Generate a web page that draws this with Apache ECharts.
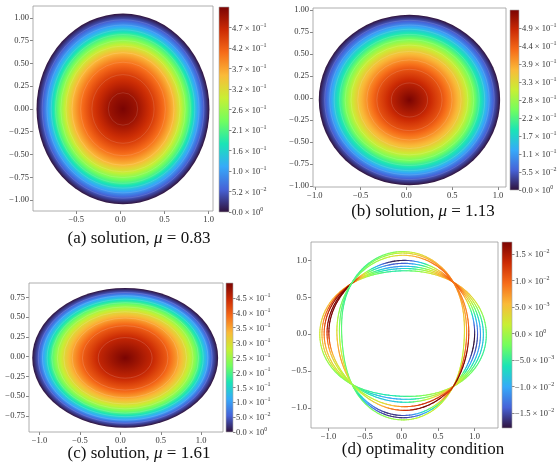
<!DOCTYPE html>
<html>
<head>
<meta charset="utf-8">
<script src="https://cdn.jsdelivr.net/npm/echarts@6/dist/echarts.min.js"></script>
<style>
  html, body { margin: 0; padding: 0; background: #fff; }
  #chart { width: 558px; height: 467px; }
</style>
</head>
<body>
<div id="chart"></div>
<script>
var FONT = 'Liberation Serif';

// ---- values ----
// contour levels (centre value first) and where each one sits,
// as a fraction of the way from the centre to the boundary
var levelsA = [0.525, 0.5, 0.45, 0.4, 0.35, 0.3, 0.25, 0.2, 0.15, 0.1, 0.05, 0];
var radiusA = [0, 0.17, 0.36, 0.49, 0.59, 0.66, 0.72, 0.78, 0.83, 0.88, 0.935, 1];
var levelsB = [0.55, 0.5, 0.45, 0.4, 0.35, 0.3, 0.25, 0.2, 0.15, 0.1, 0.05, 0];
var radiusB = [0, 0.2, 0.36, 0.47, 0.57, 0.645, 0.71, 0.77, 0.83, 0.88, 0.935, 1];
var levelsC = [0.5, 0.45, 0.4, 0.35, 0.3, 0.25, 0.2, 0.15, 0.1, 0.05, 0];
var radiusC = [0, 0.29, 0.46, 0.57, 0.66, 0.73, 0.79, 0.84, 0.89, 0.935, 1];
// domain: centre x, centre y, half width, half height
var domainA = [0.03, 0.0, 0.98, 1.047];
var domainB = [0.033, -0.023, 0.99, 0.966];
var domainC = [0.06, -0.015, 1.15, 0.885];
var maxA = 0.525, maxB = 0.55, maxC = 0.5;

var cbTicksA = [0, 0.0525, 0.105, 0.1575, 0.21, 0.2625, 0.315, 0.3675, 0.42, 0.4725];
var cbMantA = ['0.0', '5.2', '1.0', '1.6', '2.1', '2.6', '3.2', '3.7', '4.2', '4.7'];
var cbExpA = ['0', '−2', '−1', '−1', '−1', '−1', '−1', '−1', '−1', '−1'];
var cbTicksB = [0, 0.055, 0.11, 0.165, 0.22, 0.275, 0.33, 0.385, 0.44, 0.495];
var cbMantB = ['0.0', '5.5', '1.1', '1.7', '2.2', '2.8', '3.3', '3.9', '4.4', '4.9'];
var cbExpB = ['0', '−2', '−1', '−1', '−1', '−1', '−1', '−1', '−1', '−1'];
var cbTicksC = [0, 0.05, 0.1, 0.15, 0.2, 0.25, 0.3, 0.35, 0.4, 0.45];
var cbMantC = ['0.0', '5.0', '1.0', '1.5', '2.0', '2.5', '3.0', '3.5', '4.0', '4.5'];
var cbExpC = ['0', '−2', '−1', '−1', '−1', '−1', '−1', '−1', '−1', '−1'];
var cbTicksD = [-0.015, -0.01, -0.005, 0, 0.005, 0.01, 0.015];
var cbMantD = ['−1.5', '−1.0', '−5.0', '0.0', '5.0', '1.0', '1.5'];
var cbExpD = ['−2', '−2', '−3', '0', '−3', '−2', '−2'];
var minD = -0.0178, maxD = 0.0173;

// (d) boundaries: radius and optimality value (x1e-3) at 0,45,...,315 degrees
var curveRadii = [
  [1.16, 1.00, 0.86, 0.97, 1.12, 0.96, 0.84, 1.00],
  [1.12, 1.00, 0.89, 0.97, 1.09, 0.96, 0.88, 1.00],
  [1.08, 1.00, 0.92, 0.97, 1.06, 0.96, 0.92, 1.00],
  [1.04, 1.00, 0.96, 0.97, 1.02, 0.96, 0.98, 1.00],
  [1.00, 1.00, 1.00, 0.97, 0.995, 0.96, 1.03, 1.00],
  [0.86, 1.00, 1.12, 0.97, 0.82, 0.96, 1.16, 1.00],
  [0.89, 1.00, 1.10, 0.97, 0.85, 0.96, 1.13, 1.00],
  [0.92, 1.00, 1.07, 0.97, 0.885, 0.96, 1.10, 1.00]
];
var curveValues = [
  [-4, 6, -5, 4, 2, -3, -5, 0],
  [-8, 8, -8, 8, 6, -2, -9, 2],
  [-11, 9, -11, 11, 9, -1, -7, 4],
  [-14, 10, -14, 14, 12, 0, 8, 6],
  [-17, 11, -17, 16, 14, 1, 12, 8],
  [3, 7, 0, -5, -3, -3, 0, 2],
  [8, 8, 2, -4, 0, -2, -16, 6],
  [12, 9, 4, -3, 4, 0, -15, 15]
];

var captions = ['(a) solution, {i|μ} = 0.83', '(b) solution, {i|μ} = 1.13',
                '(c) solution, {i|μ} = 1.61', '(d) optimality condition'];

var ticks100 = [-1, -0.75, -0.5, -0.25, 0, 0.25, 0.5, 0.75, 1];
var ticks10 = [-1, -0.5, 0, 0.5, 1];

// ---- drawing ----
var TURBO = ['#30123b', '#4662d7', '#36aaf9', '#1ae4b6', '#72fe5e',
             '#c8ef34', '#faba39', '#f66b19', '#cb2a04', '#7a0403'];
function turbo(t) {
    return echarts.color.lerp(Math.max(0, Math.min(1, t)), TURBO);
}

function fieldRender(levels, radius, vmax) {
    return function (params, api) {
        var c = api.coord([api.value(0), api.value(1)]);
        var sz = api.size([api.value(2), api.value(3)]);
        var rx = sz[0], ry = sz[1];
        var stops = [];
        for (var i = 0; i < radius.length - 1; i++) {
            for (var k = 0; k < 4; k++) {
                var f = k / 4;
                stops.push({
                    offset: radius[i] + f * (radius[i + 1] - radius[i]),
                    color: turbo((levels[i] + f * (levels[i + 1] - levels[i])) / vmax)
                });
            }
        }
        stops.push({offset: 1, color: turbo(0)});
        var children = [{
            type: 'circle', x: c[0], y: c[1], scaleX: rx / ry,
            shape: {cx: 0, cy: 0, r: ry},
            style: {fill: {type: 'radial', x: 0.5, y: 0.5, r: 0.5, colorStops: stops}}
        }];
        for (i = 1; i < radius.length - 1; i++) {
            children.push({
                type: 'circle', x: c[0], y: c[1], scaleX: rx / ry,
                shape: {cx: 0, cy: 0, r: ry * radius[i]},
                style: {fill: null, stroke: 'rgba(255,255,255,0.22)', lineWidth: 0.6}
            });
        }
        return {type: 'group', children: children};
    };
}

function cbRender(params, api) {
    var p0 = api.coord([0, api.value(1)]);
    var p1 = api.coord([1, api.value(2)]);
    return {
        type: 'rect',
        shape: {x: p0[0], y: p1[1], width: p1[0] - p0[0], height: p0[1] - p1[1]},
        style: {
            fill: {type: 'linear', x: 0, y: 1, x2: 0, y2: 0,
                   colorStops: TURBO.map(function (c, i) { return {offset: i / 9, color: c}; })},
            stroke: '#aaa', lineWidth: 0.6
        }
    };
}

// smooth periodic curve through the 8 read values (trigonometric fit)
function trig(a, th) {
    var n = a.length, s = 0;
    for (var j = 0; j < n; j++) {
        var tj = 2 * Math.PI * j / n, w = 1;
        for (var k = 1; k < n / 2; k++) w += 2 * Math.cos(k * (th - tj));
        w += Math.cos(n / 2 * (th - tj));
        s += a[j] * w / n;
    }
    return s;
}

function curveRender(params, api) {
    var rr = [], vv = [];
    for (var k = 0; k < 8; k++) { rr.push(api.value(k)); vv.push(api.value(8 + k)); }
    var n = 320, pts = [], vals = [];
    for (var j = 0; j <= n; j++) {
        var th = j / n * 2 * Math.PI, r = trig(rr, th);
        pts.push(api.coord([r * Math.cos(th), r * Math.sin(th)]));
        vals.push(trig(vv, th) * 1e-3);
    }
    var children = [];
    for (j = 0; j < n; j++) {
        children.push({
            type: 'line',
            shape: {x1: pts[j][0], y1: pts[j][1], x2: pts[j + 1][0], y2: pts[j + 1][1]},
            style: {stroke: turbo((vals[j] - minD) / (maxD - minD)), lineWidth: 1.1, lineCap: 'round'}
        });
    }
    return {type: 'group', children: children};
}

function fmt(v, d) {
    if (Math.abs(v) < 1e-9) v = 0;
    return v.toFixed(d).replace('-', '−');
}

var labelStyle = {fontSize: 8.5, fontFamily: FONT, color: '#333'};
var grids = [
    {left: 33, top: 6, width: 180, height: 205},
    {left: 219, top: 7, width: 10, height: 205},
    {left: 313, top: 8, width: 193, height: 179},
    {left: 510, top: 10, width: 9, height: 180},
    {left: 29, top: 283, width: 194, height: 149},
    {left: 226, top: 283, width: 7, height: 149},
    {left: 311, top: 242, width: 187, height: 186},
    {left: 502, top: 242, width: 10, height: 186}
].map(function (g, i) {
    g.outerBoundsMode = 'none';
    g.show = (i % 2 === 0);
    g.borderColor = '#9a9a9a';
    g.borderWidth = 0.8;
    g.backgroundColor = 'transparent';
    g.z = 5;
    return g;
});

var xAxis = [], yAxis = [];
function plotAxes(gi, xr, yr, xt, yt, xd, yd) {
    xAxis.push({
        gridIndex: gi, type: 'value', min: xr[0], max: xr[1], position: 'bottom',
        axisLine: {show: false, onZero: false}, splitLine: {show: false},
        axisTick: {customValues: xt, length: 3, lineStyle: {color: '#666', width: 0.8}},
        axisLabel: Object.assign({customValues: xt, margin: 4,
            formatter: function (v) { return fmt(v, xd); }}, labelStyle)
    });
    yAxis.push({
        gridIndex: gi, type: 'value', min: yr[0], max: yr[1], position: 'left',
        axisLine: {show: false, onZero: false}, splitLine: {show: false},
        axisTick: {customValues: yt, length: 3, lineStyle: {color: '#666', width: 0.8}},
        axisLabel: Object.assign({customValues: yt, margin: 4,
            formatter: function (v) { return fmt(v, yd); }}, labelStyle)
    });
}
function cbAxes(gi, lo, hi, ticks, mant, expo) {
    xAxis.push({gridIndex: gi, type: 'value', min: 0, max: 1, show: false,
                axisLine: {onZero: false}});
    yAxis.push({
        gridIndex: gi, type: 'value', position: 'right', min: lo, max: hi,
        axisLine: {show: false, onZero: false}, splitLine: {show: false},
        axisTick: {customValues: ticks, length: 2.5, lineStyle: {color: '#666', width: 0.8}},
        axisLabel: {
            customValues: ticks, margin: 3,
            formatter: function (v) {
                var best = 0;
                for (var i = 1; i < ticks.length; i++) {
                    if (Math.abs(ticks[i] - v) < Math.abs(ticks[best] - v)) best = i;
                }
                return '{m|' + mant[best] + ' × 10}{s|' + expo[best] + '}';
            },
            rich: {
                m: {fontSize: 8.5, fontFamily: FONT, color: '#333', lineHeight: 11, verticalAlign: 'bottom'},
                s: {fontSize: 6, fontFamily: FONT, color: '#333', lineHeight: 11, verticalAlign: 'top'}
            }
        }
    });
}

plotAxes(0, [-0.99, 1.05], [-1.12, 1.13], [-0.5, 0, 0.5, 1], ticks100, 1, 2);
cbAxes(1, 0, maxA, cbTicksA, cbMantA, cbExpA);
plotAxes(2, [-1.02, 1.087], [-1.01, 1.02], ticks10, ticks100, 1, 2);
cbAxes(3, 0, maxB, cbTicksB, cbMantB, cbExpB);
plotAxes(4, [-1.13, 1.27], [-0.953, 0.933], ticks10, [-0.75, -0.5, -0.25, 0, 0.25, 0.5, 0.75], 1, 2);
cbAxes(5, 0, maxC, cbTicksC, cbMantC, cbExpC);
plotAxes(6, [-1.24, 1.32], [-1.27, 1.25], ticks10, ticks10, 1, 1);
cbAxes(7, minD, maxD, cbTicksD, cbMantD, cbExpD);

var series = [
    {type: 'custom', xAxisIndex: 0, yAxisIndex: 0, renderItem: fieldRender(levelsA, radiusA, maxA), data: [domainA]},
    {type: 'custom', xAxisIndex: 1, yAxisIndex: 1, renderItem: cbRender, data: [[0, 0, maxA]]},
    {type: 'custom', xAxisIndex: 2, yAxisIndex: 2, renderItem: fieldRender(levelsB, radiusB, maxB), data: [domainB]},
    {type: 'custom', xAxisIndex: 3, yAxisIndex: 3, renderItem: cbRender, data: [[0, 0, maxB]]},
    {type: 'custom', xAxisIndex: 4, yAxisIndex: 4, renderItem: fieldRender(levelsC, radiusC, maxC), data: [domainC]},
    {type: 'custom', xAxisIndex: 5, yAxisIndex: 5, renderItem: cbRender, data: [[0, 0, maxC]]},
    {type: 'custom', xAxisIndex: 6, yAxisIndex: 6, renderItem: curveRender,
     data: curveRadii.map(function (r, i) { return r.concat(curveValues[i]); })},
    {type: 'custom', xAxisIndex: 7, yAxisIndex: 7, renderItem: cbRender, data: [[0, minD, maxD]]}
];

var capPos = [[139, 239], [423, 212], [139, 454], [423, 450]];
var graphic = captions.map(function (t, i) {
    return {
        type: 'text', x: capPos[i][0], y: capPos[i][1],
        style: {
            text: t, align: 'center', verticalAlign: 'middle',
            fontSize: 17, fontFamily: FONT, fill: '#111',
            rich: {i: {fontSize: 17, fontFamily: FONT, fontStyle: 'italic', fill: '#111'}}
        }
    };
});

var chart = echarts.init(document.getElementById('chart'), null, {renderer: 'canvas'});
chart.setOption({
    animation: false,
    backgroundColor: '#fff',
    grid: grids,
    xAxis: xAxis,
    yAxis: yAxis,
    series: series,
    graphic: graphic
});
</script>
</body>
</html>
